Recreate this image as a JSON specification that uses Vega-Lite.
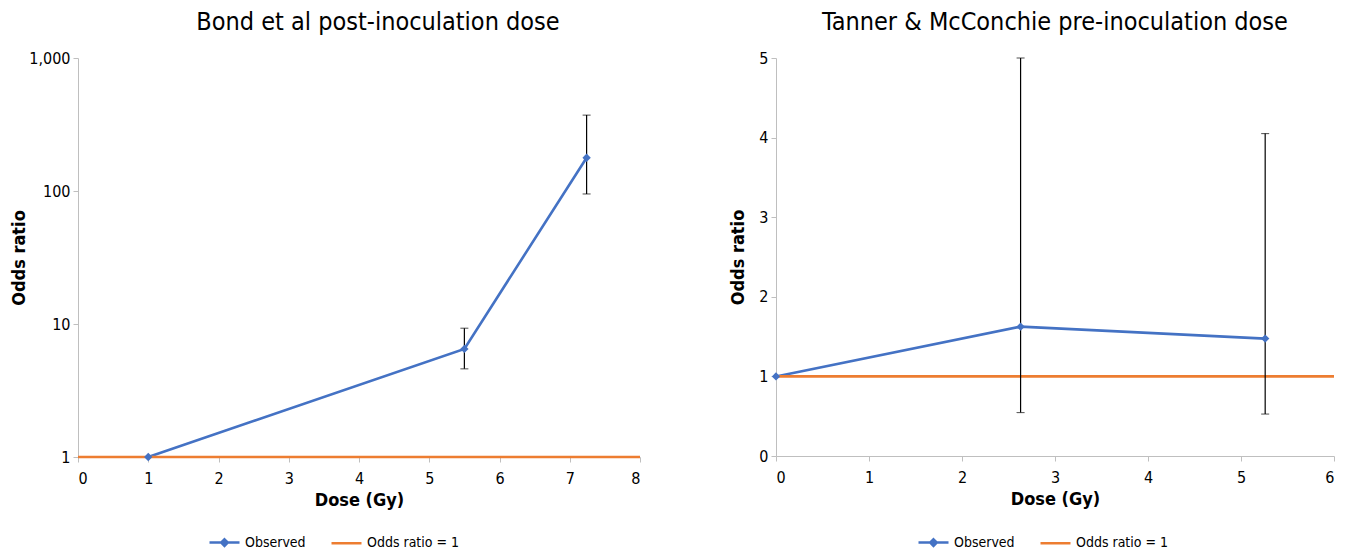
{
  "$schema": "https://vega.github.io/schema/vega-lite/v6.json",
  "background": "white",
  "padding": {"left": 10, "top": 10, "right": 8, "bottom": 0},
  "spacing": 83,
  "config": {
    "font": "DejaVu Sans Condensed, DejaVu Sans, sans-serif",
    "view": {"stroke": null},
    "axis": {
      "grid": false,
      "domainColor": "#BFBFBF",
      "tickColor": "#BFBFBF",
      "tickSize": 5,
      "labelFontSize": 16,
      "labelColor": "#000000",
      "titleFontSize": 18,
      "titleFontWeight": "bold",
      "titleColor": "#000000"
    },
    "axisX": {"titlePadding": 5, "labelPadding": 8},
    "axisY": {"labelPadding": 3},
    "title": {"fontSize": 25, "fontWeight": "normal", "color": "#000000", "offset": 15},
    "legend": {
      "orient": "none",
      "direction": "horizontal",
      "title": null,
      "symbolType": "stroke",
      "symbolSize": 900,
      "symbolStrokeWidth": 2.5,
      "labelFontSize": 14,
      "labelColor": "#000000",
      "columnPadding": 20
    }
  },
  "datasets": {
    "bondLines": [
      {"series": "Observed", "dose": 1, "or": 1},
      {"series": "Observed", "dose": 5.5, "or": 6.5},
      {"series": "Observed", "dose": 7.24, "or": 178},
      {"series": "Odds ratio = 1", "dose": 0, "or": 1},
      {"series": "Odds ratio = 1", "dose": 8, "or": 1}
    ],
    "bondCI": [
      {"dose": 5.5, "lo": 4.6, "hi": 9.3},
      {"dose": 7.24, "lo": 95, "hi": 372}
    ],
    "tannerLines": [
      {"series": "Observed", "dose": 0, "or": 1},
      {"series": "Observed", "dose": 2.63, "or": 1.625},
      {"series": "Observed", "dose": 5.26, "or": 1.475},
      {"series": "Odds ratio = 1", "dose": 0, "or": 1},
      {"series": "Odds ratio = 1", "dose": 6, "or": 1}
    ],
    "tannerCI": [
      {"dose": 2.63, "lo": 0.545, "hi": 5.0},
      {"dose": 5.26, "lo": 0.527, "hi": 4.05}
    ]
  },
  "resolve": {"scale": {"color": "independent"}, "legend": {"color": "independent"}},
  "hconcat": [
    {
      "title": {"text": "Bond et al post-inoculation dose", "dx": 19},
      "width": 562,
      "height": 399,
      "layer": [
        {
          "data": {"name": "bondLines"},
          "mark": {"type": "line", "strokeWidth": 2.6},
          "encoding": {
            "x": {"field": "dose", "type": "quantitative", "title": "Dose (Gy)",
                  "scale": {"domain": [0, 8], "nice": false},
                  "axis": {"values": [0, 1, 2, 3, 4, 5, 6, 7, 8], "format": "d"}},
            "y": {"field": "or", "type": "quantitative", "title": "Odds ratio",
                  "scale": {"type": "log", "domain": [1, 1000], "nice": false},
                  "axis": {"values": [1, 10, 100, 1000], "format": ",", "titlePadding": 0}},
            "color": {"field": "series", "type": "nominal",
                      "scale": {"domain": ["Observed", "Odds ratio = 1"], "range": ["#4472C4", "#ED7D31"]},
                      "legend": {
                        "legendX": 130,
                        "legendY": 468,
                        "encode": {"symbols": {"update": {
                          "shape": {"signal": "datum.value === 'Observed' ? 'M-1,0H1M0,-0.22L0.22,0L0,0.22L-0.22,0Z' : 'stroke'"},
                          "fill": {"signal": "datum.value === 'Observed' ? '#4472C4' : 'transparent'"}
                        }}}
                      }}
          }
        },
        {
          "data": {"name": "bondCI"},
          "mark": {"type": "errorbar", "ticks": {"size": 8}, "rule": {"strokeWidth": 1.2}, "color": "#000000"},
          "encoding": {
            "x": {"field": "dose", "type": "quantitative", "title": "Dose (Gy)"},
            "y": {"field": "lo", "type": "quantitative", "title": "Odds ratio"},
            "y2": {"field": "hi"}
          }
        },
        {
          "data": {"name": "bondLines"},
          "transform": [{"filter": "datum.series === 'Observed'"}],
          "mark": {"type": "point", "shape": "diamond", "filled": true, "size": 70, "opacity": 1, "color": "#4472C4"},
          "encoding": {
            "x": {"field": "dose", "type": "quantitative", "title": "Dose (Gy)"},
            "y": {"field": "or", "type": "quantitative", "title": "Odds ratio"}
          }
        }
      ]
    },
    {
      "title": "Tanner & McConchie pre-inoculation dose",
      "width": 558,
      "height": 398,
      "layer": [
        {
          "data": {"name": "tannerLines"},
          "mark": {"type": "line", "strokeWidth": 2.6},
          "encoding": {
            "x": {"field": "dose", "type": "quantitative", "title": "Dose (Gy)",
                  "scale": {"domain": [0, 6], "nice": false},
                  "axis": {"values": [0, 1, 2, 3, 4, 5, 6], "format": "d"}},
            "y": {"field": "or", "type": "quantitative", "title": "Odds ratio",
                  "scale": {"domain": [0, 5], "nice": false},
                  "axis": {"values": [0, 1, 2, 3, 4, 5], "format": "d", "titlePadding": 11}},
            "color": {"field": "series", "type": "nominal",
                      "scale": {"domain": ["Observed", "Odds ratio = 1"], "range": ["#4472C4", "#ED7D31"]},
                      "legend": {
                        "legendX": 141,
                        "legendY": 468,
                        "encode": {"symbols": {"update": {
                          "shape": {"signal": "datum.value === 'Observed' ? 'M-1,0H1M0,-0.22L0.22,0L0,0.22L-0.22,0Z' : 'stroke'"},
                          "fill": {"signal": "datum.value === 'Observed' ? '#4472C4' : 'transparent'"}
                        }}}
                      }}
          }
        },
        {
          "data": {"name": "tannerCI"},
          "mark": {"type": "errorbar", "ticks": {"size": 8}, "rule": {"strokeWidth": 1.2}, "color": "#000000"},
          "encoding": {
            "x": {"field": "dose", "type": "quantitative", "title": "Dose (Gy)"},
            "y": {"field": "lo", "type": "quantitative", "title": "Odds ratio"},
            "y2": {"field": "hi"}
          }
        },
        {
          "data": {"name": "tannerLines"},
          "transform": [{"filter": "datum.series === 'Observed'"}],
          "mark": {"type": "point", "shape": "diamond", "filled": true, "size": 70, "opacity": 1, "color": "#4472C4"},
          "encoding": {
            "x": {"field": "dose", "type": "quantitative", "title": "Dose (Gy)"},
            "y": {"field": "or", "type": "quantitative", "title": "Odds ratio"}
          }
        }
      ]
    }
  ]
}
